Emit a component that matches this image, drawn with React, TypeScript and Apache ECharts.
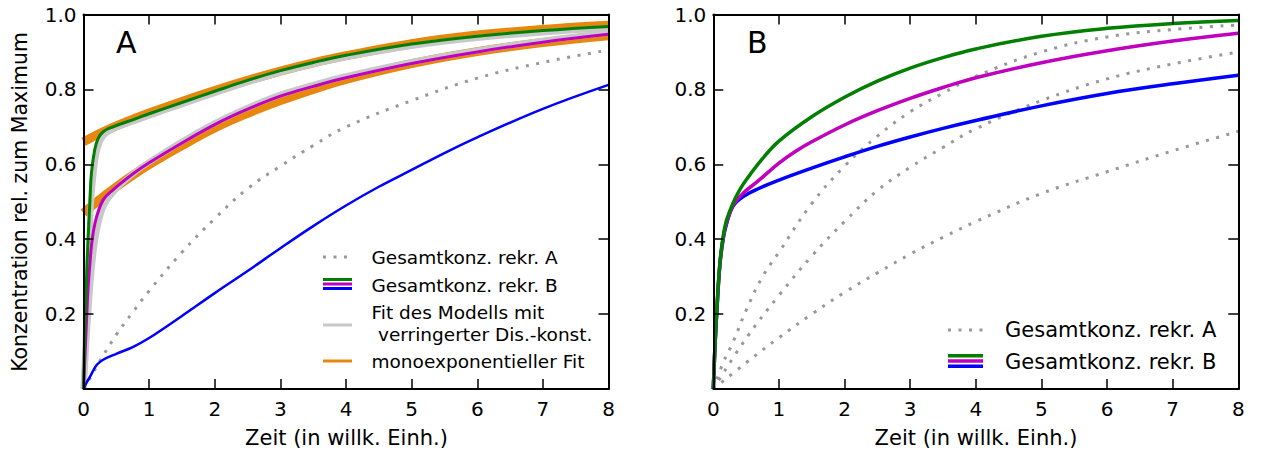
import React, { useEffect, useRef } from 'react';
import * as echarts from 'echarts';

// ---------- data (x in willk. Einh., y rel. zum Maximum) ----------
const xTickValues = [0, 1, 2, 3, 4, 5, 6, 7, 8];
const yTickLabels = ['0.2', '0.4', '0.6', '0.8', '1.0'];

// Panel A
const dottedA: [number, number][] = [[0,0],[0.1,0.029],[0.25,0.075],[0.5,0.145],[0.75,0.205],[1,0.262],[1.5,0.365],[2,0.455],[2.5,0.535],[3,0.595],[3.5,0.65],[4,0.70],[5,0.77],[6,0.83],[7,0.872],[8,0.905]];
const blueA: [number, number][] = [[0,0],[0.05,0.018],[0.1,0.033],[0.2,0.064],[0.3,0.078],[0.5,0.094],[0.75,0.112],[1,0.136],[1.5,0.195],[2,0.256],[2.5,0.315],[3,0.376],[3.5,0.435],[4,0.49],[4.5,0.54],[5,0.585],[5.5,0.63],[6,0.672],[7,0.748],[8,0.812]];
const greenA: [number, number][] = [[0,0],[0.02,0.15],[0.046,0.29],[0.07,0.40],[0.1,0.51],[0.12,0.575],[0.17,0.638],[0.22,0.668],[0.3,0.687],[0.45,0.70],[0.8,0.722],[1,0.735],[1.5,0.765],[2,0.795],[2.5,0.824],[3,0.85],[3.5,0.872],[4,0.891],[5,0.921],[6,0.942],[7,0.957],[8,0.968]];
const magentaA: [number, number][] = [[0,0],[0.02,0.08],[0.05,0.2],[0.07,0.27],[0.1,0.34],[0.12,0.38],[0.15,0.42],[0.2,0.46],[0.3,0.505],[0.45,0.532],[0.75,0.574],[1,0.604],[1.5,0.657],[2,0.706],[2.5,0.747],[3,0.782],[3.5,0.808],[4,0.831],[5,0.869],[6,0.9],[7,0.926],[8,0.947]];
const grayUpA: [number, number][] = [[0,0],[0.02,0.08],[0.05,0.22],[0.07,0.32],[0.1,0.44],[0.12,0.51],[0.17,0.6],[0.22,0.645],[0.3,0.675],[0.45,0.694],[0.8,0.717],[1,0.73],[1.5,0.76],[2,0.79],[2.5,0.819],[3,0.845],[3.5,0.867],[4,0.886],[5,0.916],[6,0.937],[7,0.952],[8,0.963]];
const grayLowA: [number, number][] = [[0,0],[0.02,0.05],[0.05,0.14],[0.1,0.27],[0.15,0.36],[0.2,0.42],[0.3,0.485],[0.45,0.525],[0.75,0.574],[1,0.606],[1.5,0.661],[2,0.71],[2.5,0.751],[3,0.786],[3.5,0.812],[4,0.835],[5,0.873],[6,0.904],[7,0.93],[8,0.951]];
const orangeUpA: [number, number][] = [[0,0.66],[0.3,0.687],[0.6,0.71],[1,0.737],[1.5,0.768],[2,0.797],[2.5,0.824],[3,0.849],[3.5,0.871],[4,0.89],[5,0.922],[6,0.945],[7,0.96],[8,0.971]];
const orangeLowA: [number, number][] = [[0,0.47],[0.15,0.492],[0.3,0.513],[0.5,0.54],[0.75,0.571],[1,0.599],[1.5,0.65],[2,0.697],[2.5,0.736],[3,0.77],[3.5,0.8],[4,0.827],[5,0.869],[6,0.901],[7,0.925],[8,0.943]];

// Panel B
const dottedB1: [number, number][] = [[0,0],[0.15,0.07],[0.3,0.125],[0.5,0.21],[0.75,0.3],[1,0.365],[1.5,0.495],[2,0.595],[2.5,0.675],[3,0.74],[3.5,0.79],[4,0.835],[5,0.9],[6,0.94],[7,0.96],[8,0.972]];
const dottedB2: [number, number][] = [[0,0],[0.5,0.135],[1,0.25],[1.5,0.355],[2,0.447],[2.5,0.53],[3,0.592],[3.5,0.645],[4,0.695],[5,0.77],[6,0.828],[7,0.868],[8,0.90]];
const dottedB3: [number, number][] = [[0,0],[0.5,0.07],[1,0.137],[1.5,0.2],[2,0.258],[2.5,0.31],[3,0.36],[3.5,0.405],[4,0.447],[5,0.522],[6,0.58],[7,0.636],[8,0.688]];
const greenB: [number, number][] = [[0,0],[0.025,0.113],[0.05,0.2],[0.1,0.336],[0.15,0.407],[0.2,0.45],[0.3,0.496],[0.4,0.531],[0.5,0.558],[0.75,0.615],[1,0.662],[1.5,0.727],[2,0.779],[2.5,0.822],[3,0.857],[3.5,0.885],[4,0.908],[5,0.942],[6,0.963],[7,0.976],[8,0.984]];
const magentaB: [number, number][] = [[0,0],[0.025,0.112],[0.05,0.198],[0.1,0.333],[0.15,0.403],[0.2,0.443],[0.3,0.49],[0.45,0.522],[0.68,0.555],[1,0.603],[1.25,0.634],[1.5,0.66],[2,0.705],[2.5,0.743],[3,0.776],[3.5,0.805],[4,0.831],[5,0.871],[6,0.903],[7,0.929],[8,0.95]];
const blueB: [number, number][] = [[0,0],[0.025,0.11],[0.05,0.195],[0.1,0.33],[0.15,0.4],[0.2,0.44],[0.3,0.488],[0.45,0.513],[0.7,0.536],[1,0.558],[1.5,0.59],[2,0.62],[2.5,0.648],[3,0.673],[3.5,0.696],[4,0.717],[5,0.756],[6,0.789],[7,0.815],[8,0.838]];

const legendLabelsA = ['Gesamtkonz. rekr. A', 'Gesamtkonz. rekr. B', 'Fit des Modells mit', 'verringerter Dis.-konst.', 'monoexponentieller Fit'];
const legendLabelsB = ['Gesamtkonz. rekr. A', 'Gesamtkonz. rekr. B'];
const yAxisTitle = 'Konzentration rel. zum Maximum';
const xAxisTitle = 'Zeit (in willk. Einh.)';

// ---------- styles ----------
const FONT = 'DejaVu Sans';
const GREEN = '#007f00';
const MAGENTA = '#bf00bf';
const BLUE = '#0000ff';
const ORANGE = '#e8870e';
const LGRAY = '#c8c8c8';
const DGRAY = '#999999';
const DOT = [3, 7.5];

const GRID_TOP = 14.5;
const GRID_H = 374.5;
const GRID_W = 525;
const LEFT_A = 83.5;
const LEFT_B = 713.3;

function lineSeries(data: [number, number][], color: string, width: number, g: number, dash?: number[]) {
  return {
    type: 'line',
    data,
    xAxisIndex: g * 2,
    yAxisIndex: g * 2,
    showSymbol: false,
    symbol: 'none',
    smooth: 0.4,
    silent: true,
    lineStyle: { color, width, type: dash ? dash : 'solid', cap: 'butt', join: 'round' },
  };
}

function xAxes(g: number) {
  const base = {
    gridIndex: g,
    type: 'value',
    min: 0,
    max: 8,
    interval: 1,
    z: 10,
    splitLine: { show: false },
    axisLine: { show: true, onZero: false, lineStyle: { color: '#000', width: 2 } },
    axisTick: { show: true, inside: true, length: 10, lineStyle: { color: '#000', width: 1.5 } },
  };
  return [
    { ...base, position: 'bottom', axisLabel: { show: true, color: '#000', fontSize: 20, fontFamily: FONT, margin: 10,
      formatter: (v: number) => (xTickValues.includes(v) ? String(v) : '') } },
    { ...base, position: 'top', axisLabel: { show: false } },
  ];
}

function yAxes(g: number) {
  const base = {
    gridIndex: g,
    type: 'value',
    min: 0,
    max: 1,
    interval: 0.2,
    z: 10,
    splitLine: { show: false },
    axisLine: { show: true, onZero: false, lineStyle: { color: '#000', width: 2 } },
    axisTick: { show: true, inside: true, length: 10, lineStyle: { color: '#000', width: 1.5 } },
  };
  return [
    { ...base, position: 'left', axisLabel: { show: true, color: '#000', fontSize: 20, fontFamily: FONT, margin: 7,
      formatter: (v: number) => { const s = v.toFixed(1); return yTickLabels.includes(s) ? s : ''; } } },
    { ...base, position: 'right', axisLabel: { show: false } },
  ];
}

function txt(x: number, y: number, text: string, size: number, align = 'left', rotation = 0) {
  return {
    type: 'text', x, y, rotation, silent: true, z: 20,
    style: { text, fontSize: size, fontFamily: FONT, fill: '#000', align, verticalAlign: 'middle' },
  };
}
function seg(x1: number, x2: number, y: number, color: string, width: number, dash?: number[]) {
  return {
    type: 'line', silent: true, z: 20,
    shape: { x1, y1: y, x2, y2: y },
    style: { stroke: color, lineWidth: width, lineDash: dash || null, lineCap: 'butt' },
  };
}

export default function App() {
  const ref = useRef<HTMLDivElement>(null);
  useEffect(() => {
    if (!ref.current) return;
    const chart = echarts.init(ref.current, undefined, { renderer: 'svg' });
    const option: any = {
      animation: false,
      backgroundColor: '#ffffff',
      grid: [
        { left: LEFT_A, top: GRID_TOP, width: GRID_W, height: GRID_H },
        { left: LEFT_B, top: GRID_TOP, width: GRID_W, height: GRID_H },
      ],
      xAxis: [...xAxes(0), ...xAxes(1)],
      yAxis: [...yAxes(0), ...yAxes(1)],
      series: [
        lineSeries(orangeUpA, ORANGE, 9, 0),
        lineSeries(orangeLowA, ORANGE, 9, 0),
        lineSeries(grayUpA, LGRAY, 6, 0),
        lineSeries(grayLowA, LGRAY, 6, 0),
        lineSeries(dottedA, DGRAY, 3, 0, DOT),
        lineSeries(blueA, BLUE, 2.5, 0),
        lineSeries(magentaA, MAGENTA, 3, 0),
        lineSeries(greenA, GREEN, 3, 0),
        lineSeries(dottedB1, DGRAY, 3, 1, DOT),
        lineSeries(dottedB2, DGRAY, 3, 1, DOT),
        lineSeries(dottedB3, DGRAY, 3, 1, DOT),
        lineSeries(blueB, BLUE, 3.5, 1),
        lineSeries(magentaB, MAGENTA, 3.5, 1),
        lineSeries(greenB, GREEN, 3.5, 1),
      ],
      graphic: [
        txt(116, 42, 'A', 30),
        txt(747, 42, 'B', 30),
        txt(20, 202, yAxisTitle, 20.5, 'center', Math.PI / 2),
        txt(346.5, 438, xAxisTitle, 21, 'center'),
        txt(976, 438, xAxisTitle, 21, 'center'),
        // legend A
        seg(323, 352, 257, DGRAY, 3, DOT),
        txt(371.5, 257, legendLabelsA[0], 18.5),
        seg(323, 352, 279.5, GREEN, 3),
        seg(323, 352, 284, MAGENTA, 3),
        seg(323, 352, 288.5, BLUE, 3),
        txt(371.5, 285, legendLabelsA[1], 18.5),
        seg(323, 352, 325, LGRAY, 3),
        txt(371.5, 312, legendLabelsA[2], 18.5),
        txt(378, 334, legendLabelsA[3], 18.5),
        seg(323, 352, 361, ORANGE, 3),
        txt(371.5, 361, legendLabelsA[4], 18.5),
        // legend B
        seg(948, 983, 330, DGRAY, 3, DOT),
        txt(1005, 330, legendLabelsB[0], 21),
        seg(948, 983, 355.7, GREEN, 3.5),
        seg(948, 983, 361, MAGENTA, 3.5),
        seg(948, 983, 366.3, BLUE, 3.5),
        txt(1005, 362, legendLabelsB[1], 21),
      ],
    };
    chart.setOption(option);
    return () => chart.dispose();
  }, []);
  return (
    <div
      ref={ref}
      style={{ position: 'absolute', left: 0, top: 0, width: 1261, height: 452, background: '#fff' }}
    />
  );
}
